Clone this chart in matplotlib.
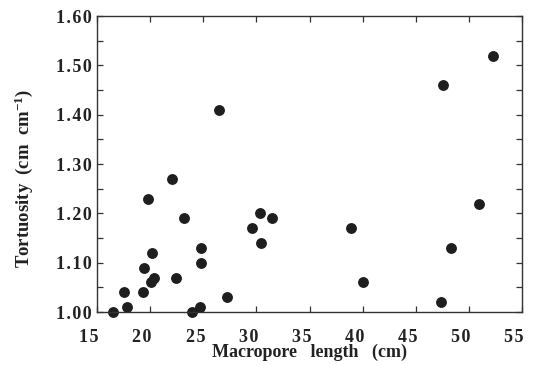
import matplotlib
matplotlib.use('Agg')
import matplotlib.pyplot as plt
from matplotlib.ticker import MultipleLocator, FuncFormatter
import matplotlib.transforms as mtransforms

# macropore length (cm) and tortuosity (cm cm-1)
length = [16.5, 17.5, 17.8, 19.3, 19.4, 19.8, 20.05, 20.15, 20.4, 22.1,
          22.45, 23.2, 23.9, 24.7, 24.75, 24.75, 26.45, 27.2, 29.6, 30.3,
          30.4, 31.5, 38.9, 40.0, 47.4, 47.6, 48.3, 50.95, 52.3]
tortuosity = [1.00, 1.04, 1.01, 1.04, 1.09, 1.23, 1.06, 1.12, 1.07, 1.27,
              1.07, 1.19, 1.00, 1.01, 1.13, 1.10, 1.41, 1.03, 1.17, 1.20,
              1.14, 1.19, 1.17, 1.06, 1.02, 1.46, 1.13, 1.22, 1.52]
x_ticks = [15, 20, 25, 30, 35, 40, 45, 50, 55]

plt.rcParams['font.family'] = ['Liberation Serif', 'DejaVu Serif']
plt.rcParams['font.weight'] = 'bold'
plt.rcParams['mathtext.fontset'] = 'custom'
plt.rcParams['mathtext.rm'] = 'Liberation Serif:bold'
plt.rcParams['mathtext.default'] = 'rm'

HS = '\u200a'  # hair space, the original labels are letter-spaced


def spaced(s):
    return HS.join(s)


fig = plt.figure(figsize=(5.36, 3.65), dpi=100)
ax = fig.add_axes([0.181, 0.145, 0.793, 0.811])

ax.plot(length, tortuosity, 'o', color='#1e1e1e', markersize=6.8, clip_on=False)

ax.set_xlim(15, 55)
ax.set_ylim(1.0, 1.6)
ax.set_xticks(x_ticks)
ax.xaxis.set_major_formatter(FuncFormatter(lambda v, p: spaced('%d' % v)))
ax.yaxis.set_major_locator(MultipleLocator(0.1))
ax.yaxis.set_minor_locator(MultipleLocator(0.05))
ax.yaxis.set_major_formatter(FuncFormatter(lambda v, p: spaced('%.2f' % v)))

ax.tick_params(which='both', direction='in', top=True, right=True,
               length=4, width=0.9, color='#333333')
ax.tick_params(axis='both', labelsize=13, labelcolor='#222222')
ax.tick_params(axis='y', pad=4)
ax.tick_params(axis='x', pad=12)

for lab in ax.get_xticklabels():
    lab.set_transform(lab.get_transform() +
                      mtransforms.ScaledTranslation(-8 / 100, 0, fig.dpi_scale_trans))

for s in ax.spines.values():
    s.set_linewidth(1.0)
    s.set_color('#333333')

ax.set_xlabel('Macropore   length   (cm)', fontsize=13, fontweight='bold',
              color='#222222')
ax.xaxis.set_label_coords(0.5, -0.108)
ax.set_ylabel('Tortuosity  (cm  cm$^{-1}$)', fontsize=13.5, fontweight='bold',
              color='#222222')
ax.yaxis.set_label_coords(-0.145, 0.453)

fig.savefig('out.png', dpi=100)
